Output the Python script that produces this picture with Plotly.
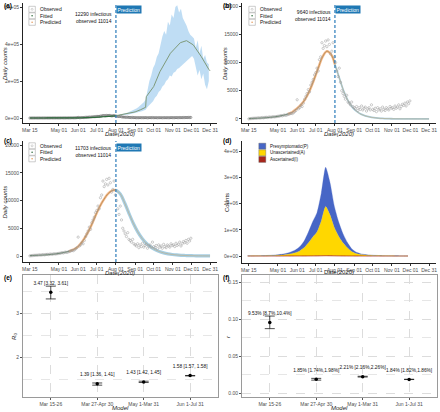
import plotly.graph_objects as go
import pandas as pd

W, H = 440, 412
FONT = "Liberation Sans, Arial, sans-serif"
TICK_FONT = dict(family=FONT, size=5, color="#4D4D4D")

# ---------------- data ----------------
OBS_START = "2020-03-15"
observed = [20, 50, 80, 100, 120, 150, 130, 180, 200, 160, 220, 250, 200, 280, 300, 260, 320, 350, 300, 380, 400, 360, 420, 450,
            480, 520, 600, 550, 650, 700, 640, 760,
            820, 900, 1000, 950, 1100, 1300, 1500,
            3400, 1800, 2000, 2400, 2200, 2800, 3500, 4000,
            4500, 5200, 4800, 6000, 6500, 7000, 7800, 8200,
            9000, 8500, 10500, 11000, 13500, 12500, 13000, 13800,
            12800, 14000, 13200, 11500, 12000, 13500, 11000,
            10000, 8500, 7500, 9000, 6500, 5000, 4500, 4000,
            3500, 4200, 3000, 2800, 2500, 3000, 2200, 2000,
            1800, 2200, 1500, 2000, 1700, 2300, 1600, 1900, 2100, 1400, 1800, 2000, 1600, 2500, 1700,
            1500, 1900, 1300, 2000, 1600, 1800, 1400, 2100, 1700, 1500, 2000, 1800, 1600, 2200, 1900,
            2000, 1700, 2300, 1900, 2100, 2500, 1800, 2200, 2600, 2400, 2800, 2300, 3000, 2700, 3200]
obs_dates = pd.date_range(OBS_START, periods=len(observed), freq="2D")

fit_dates = ["2020-03-15", "2020-03-22", "2020-03-29", "2020-04-05", "2020-04-12", "2020-04-19", "2020-04-26",
             "2020-05-03", "2020-05-10", "2020-05-17", "2020-05-24", "2020-05-31", "2020-06-07", "2020-06-14",
             "2020-06-21", "2020-06-28", "2020-07-05", "2020-07-12", "2020-07-19", "2020-07-26", "2020-08-01"]
pred_dates = ["2020-08-01", "2020-08-08", "2020-08-15", "2020-08-22", "2020-08-29", "2020-09-05", "2020-09-12",
              "2020-09-19", "2020-09-26", "2020-10-03", "2020-10-10", "2020-10-17", "2020-10-24", "2020-10-31",
              "2020-11-07", "2020-11-14", "2020-11-21", "2020-11-28", "2020-12-05", "2020-12-12", "2020-12-19",
              "2020-12-26", "2020-12-31"]

# panel (a)
fit_a = [80, 95, 120, 150, 190, 240, 300, 380, 480, 620, 800, 1050, 1400, 1900, 2600, 3600, 5000, 6700, 8600, 10500, 12290]
pred_a_dates = ["2020-08-01", "2020-08-15", "2020-09-01", "2020-09-10", "2020-09-18", "2020-09-19", "2020-10-01",
                "2020-10-11", "2020-10-28", "2020-11-13", "2020-11-23", "2020-12-04", "2020-12-17", "2020-12-29", "2020-12-31"]
pred_a = [12290, 20000, 33000, 45000, 58000, 115000, 170000, 250000, 350000, 407000, 418000, 395000, 331000, 263000, 255000]
band_a_dates = pd.date_range("2020-08-01", periods=51, freq="3D")
band_a_upper = [13000, 15000, 17000, 19000, 22000, 25000, 28000, 32000, 36000, 40000, 45000, 52000, 58000, 66000, 75000,
                85000, 100000, 160000, 200000, 230000, 270000, 290000, 330000, 350000, 400000, 440000, 470000, 450000,
                520000, 500000, 560000, 540000, 600000, 610000, 570000, 590000, 540000, 520000, 500000, 470000, 450000,
                440000, 430000, 380000, 420000, 350000, 390000, 320000, 340000, 300000, 290000]
band_a_lower = [11500, 12000, 13000, 14000, 15000, 16000, 17500, 19000, 21000, 23000, 25000, 28000, 31000, 34000, 37000,
                40000, 44000, 60000, 70000, 85000, 90000, 110000, 120000, 140000, 150000, 170000, 180000, 200000, 210000,
                230000, 225000, 245000, 250000, 265000, 270000, 280000, 290000, 300000, 310000, 320000, 330000, 335000,
                320000, 280000, 230000, 260000, 210000, 240000, 180000, 155000, 200000]

# panel (b)
fit_b = [80, 100, 130, 170, 220, 290, 380, 500, 660, 880, 1200, 1800, 2500, 3500, 5000, 6900, 9000, 11000, 12000, 11400, 9640]
pred_b = [9640, 7300, 5000, 3300, 2100, 1350, 850, 550, 350, 220, 140, 90, 60, 40, 27, 18, 12, 8, 5, 3, 2, 1, 1]

# panel (c)
fit_c = [80, 100, 130, 170, 220, 290, 380, 500, 650, 850, 1150, 1600, 2500, 3700, 5200, 7000, 8700, 10100, 11200, 11800, 11900]
pred_c = [11900, 11200, 9600, 7700, 5900, 4400, 3200, 2300, 1650, 1150, 800, 560, 390, 270, 190, 130, 90, 60, 45, 30, 20, 15, 12]

info_a = "12290 infectious<br>observed 11014"
info_b = "9640 infectious<br>observed 11014"
info_c = "11703 infectious<br>observed 11014"

# panel (d)
d_dates = pd.date_range("2020-03-13", periods=38, freq="7D")
d_ascertained = [30, 40, 60, 80, 110, 150, 210, 290, 400, 550, 760, 1050, 1450, 2000, 2900, 4000, 5300, 7800, 11000,
                 9200, 6300, 4300, 2800, 1700, 950, 500, 300, 190, 130, 90, 65, 45, 32, 23, 16, 11, 8, 6]
d_unascertained = [3500, 4800, 6500, 8500, 11500, 15500, 21000, 29000, 41000, 59000, 86000, 127000, 193000, 308000,
                   495000, 715000, 910000, 1330000, 1870000, 1560000, 1080000, 750000, 500000, 310000, 172000, 95000,
                   59000, 39000, 28000, 20000, 15000, 10800, 7900, 5700, 4200, 3000, 2200, 1600]
d_presymptomatic = [1470, 2160, 2940, 4420, 6390, 9350, 13790, 20710, 30600, 45450, 68240, 101950, 155550, 250000,
                    402100, 581000, 734700, 1062200, 1499000, 1230800, 813700, 545700, 347200, 208300, 107050, 54500,
                    30700, 18810, 11870, 7910, 4935, 3155, 2068, 1277, 784, 489, 292, 194]

# panels (e), (f)
models = ["Mar 15-26", "Mar 27-Apr 30", "May 1-Mar 31", "Jun 1-Jul 31"]
r0 = [3.47, 1.39, 1.43, 1.58]
r0_lo = [3.32, 1.36, 1.42, 1.57]
r0_hi = [3.61, 1.41, 1.45, 1.58]
r0_text = ["3.47 [3.32, 3.61]", "1.39 [1.36, 1.41]", "1.43 [1.42, 1.45]", "1.58 [1.57, 1.58]"]
rr = [0.0953, 0.0185, 0.0221, 0.0184]
rr_lo = [0.087, 0.0174, 0.0216, 0.0182]
rr_hi = [0.104, 0.0198, 0.0226, 0.0186]
rr_text = ["9.53% [8.7%,10.4%]", "1.85% [1.74%,1.98%]", "2.21% [2.16%,2.26%]", "1.84% [1.82%,1.86%]"]

DATE_TICKS = ["2020-03-15", "2020-05-01", "2020-06-01", "2020-07-01", "2020-08-01", "2020-09-01",
              "2020-10-01", "2020-11-01", "2020-12-01", "2020-12-31"]
DATE_LABELS = ["Mar 15", "May 01", "Jun 01", "Jul 01", "Aug 01", "Sep 01", "Oct 01", "Nov 01", "Dec 01", "Dec 31"]
DATE_MIN, DATE_MAX = "2020-03-03 18:00", "2021-01-11 06:00"
PRED_START = "2020-08-01"

# ---------------- colours ----------------
C_OBS = "#9A9A9A"
C_FIT = "#2E6B3C"
C_ORANGE = "rgba(240,160,100,0.75)"
C_BLUE = "#A6CEE3"
C_TAN = "rgba(200,160,100,0.8)"
C_DASH = "#2B7BB9"

# ---------------- layout geometry (pixels) ----------------
PANELS = {
    "a": ((22, 217), (3, 123)),
    "b": ((242, 437), (3, 123)),
    "c": ((22, 217), (141, 262)),
    "d": ((242, 437), (141, 263)),
    "e": ((22, 218), (275, 397)),
    "f": ((242, 438), (275, 397)),
}
AXID = {"a": "", "b": "2", "c": "3", "d": "4", "e": "5", "f": "6"}


def px(x):
    return x / W


def py(y):
    return 1 - y / H


def xdom(k):
    a, b = PANELS[k][0]
    return [a / W, b / W]


def ydom(k):
    t, b = PANELS[k][1]
    return [1 - b / H, 1 - t / H]


fig = go.Figure()


def xy(k):
    return dict(xaxis="x" + AXID[k], yaxis="y" + AXID[k])


# ---- panel (a) ----
fig.add_trace(go.Scatter(x=band_a_dates, y=band_a_lower, mode="lines", line=dict(width=0), hoverinfo="skip",
                         showlegend=False, **xy("a")))
fig.add_trace(go.Scatter(x=band_a_dates, y=band_a_upper, mode="lines", line=dict(width=0), fill="tonexty",
                         fillcolor="rgba(170,210,240,0.75)", showlegend=False, **xy("a")))
fig.add_trace(go.Scatter(x=obs_dates, y=observed, mode="markers",
                         marker=dict(size=2.2, color="rgba(0,0,0,0)", line=dict(color="#555", width=0.5)),
                         showlegend=False, **xy("a")))
fig.add_trace(go.Scatter(x=fit_dates, y=fit_a, mode="lines", line=dict(color=C_FIT, width=1.2, shape="spline"),
                         showlegend=False, **xy("a")))
fig.add_trace(go.Scatter(x=pred_a_dates, y=pred_a, mode="lines", line=dict(color="#7F9A7A", width=1),
                         showlegend=False, **xy("a")))

# ---- panels (b), (c) ----
for k, fit, pred, bw in (("b", fit_b, pred_b, 1.8), ("c", fit_c, pred_c, 3.2)):
    fig.add_trace(go.Scatter(x=fit_dates, y=fit, mode="lines", line=dict(color=C_FIT, width=1, shape="spline"),
                             showlegend=False, **xy(k)))
    fig.add_trace(go.Scatter(x=fit_dates[9:], y=fit[9:], mode="lines",
                             line=dict(color=C_ORANGE, width=2.4, shape="spline"), showlegend=False, **xy(k)))
    fig.add_trace(go.Scatter(x=pred_dates, y=pred, mode="lines", line=dict(color=C_BLUE, width=bw, shape="spline"),
                             showlegend=False, **xy(k)))
    fig.add_trace(go.Scatter(x=pred_dates, y=pred, mode="lines", line=dict(color=C_TAN, width=0.6, shape="spline"),
                             showlegend=False, **xy(k)))
    fig.add_trace(go.Scatter(x=obs_dates, y=observed, mode="markers",
                             marker=dict(size=2.3, color="rgba(0,0,0,0)", line=dict(color=C_OBS, width=0.5)),
                             showlegend=False, **xy(k)))

# ---- panel (d) ----
for vals, col in ((d_ascertained, "#A8261B"), (d_unascertained, "#FFD700"), (d_presymptomatic, "#4766C6")):
    fig.add_trace(go.Scatter(x=d_dates, y=vals, mode="lines", stackgroup="d",
                             line=dict(color=col, width=0.8 if col == "#A8261B" else 0.3, shape="spline",
                                       smoothing=0.6),
                             fillcolor=col, showlegend=False, **xy("d")))

# ---- panels (e), (f) ----
for k, v, lo, hi, txt, off in (("e", r0, r0_lo, r0_hi, r0_text, 0.2), ("f", rr, rr_lo, rr_hi, rr_text, 0.0115)):
    xs = list(range(len(models)))
    fig.add_trace(go.Scatter(
        x=xs, y=v, mode="markers", marker=dict(size=3.5, color="black"),
        error_y=dict(type="data", symmetric=False, array=[h - m for h, m in zip(hi, v)],
                     arrayminus=[m - l for m, l in zip(v, lo)], width=5, thickness=0.7, color="black"),
        showlegend=False, **xy(k)))
    fig.add_trace(go.Scatter(x=xs, y=[m + off for m in v], mode="text", text=txt,
                             textfont=dict(family=FONT, size=4.8, color="#111"), showlegend=False, **xy(k)))

# ---------------- axes ----------------
AX = dict(showgrid=False, zeroline=False, showline=True, linecolor="#222", linewidth=0.6, ticks="outside",
          ticklen=2, tickwidth=0.5, tickcolor="#333", tickfont=TICK_FONT)
layout = dict(width=W, height=H, margin=dict(l=0, r=0, t=0, b=0), paper_bgcolor="white", plot_bgcolor="white",
              showlegend=False, font=dict(family=FONT))

yr = {"a": [-27000, 621600], "b": [-714, 20536], "c": [-1081, 20720], "d": [-266700, 4381000]}
ytv = {"a": ([0, 2e5, 4e5, 6e5], ["0e+00", "2e+05", "4e+05", "6e+05"]),
       "b": ([0, 5000, 10000, 15000, 20000], ["0", "5000", "10000", "15000", "20000"]),
       "c": ([0, 5000, 10000, 15000, 20000], ["0", "5000", "10000", "15000", "20000"]),
       "d": ([0, 1e6, 2e6, 3e6, 4e6], ["0e+00", "1e+06", "2e+06", "3e+06", "4e+06"])}
for k in "abcd":
    layout["xaxis" + AXID[k]] = dict(domain=xdom(k), anchor="y" + AXID[k], type="date", range=[DATE_MIN, DATE_MAX],
                                     tickvals=DATE_TICKS, ticktext=DATE_LABELS, **AX)
    layout["yaxis" + AXID[k]] = dict(domain=ydom(k), anchor="x" + AXID[k], range=yr[k], tickvals=ytv[k][0],
                                     ticktext=ytv[k][1], **AX)

GRID = dict(showgrid=True, gridcolor="#DCDCDC", gridwidth=0.5, griddash="dash")
BOX = dict(zeroline=False, showline=True, mirror=True, linecolor="#9A9A9A", linewidth=0.6, ticks="outside",
           ticklen=2, tickwidth=0.5, tickcolor="#555", tickfont=TICK_FONT)
for k, rng, dt, minor in (("e", [1.091, 3.864], 1, 0.5), ("f", [-0.0054, 0.1595], 0.05, 0.025)):
    layout["xaxis" + AXID[k]] = dict(domain=xdom(k), anchor="y" + AXID[k], range=[-0.6, 3.6],
                                     tickvals=list(range(len(models))), ticktext=models, **GRID, **BOX)
    layout["yaxis" + AXID[k]] = dict(domain=ydom(k), anchor="x" + AXID[k], range=rng, tick0=0, dtick=dt,
                                     tickformat=".2f" if k == "f" else "d",
                                     minor=dict(dtick=minor, tick0=0, showgrid=True, gridcolor="#E6E6E6",
                                                griddash="dash", gridwidth=0.4, ticks=""),
                                     **GRID, **BOX)
fig.update_layout(**layout)

# ---------------- decorations ----------------
shapes = []
ann = []

for k, info, info_y in (("a", info_a, 17.5), ("b", info_b, 16), ("c", info_c, 151.5)):
    shapes.append(dict(type="line", xref="x" + AXID[k], yref="y" + AXID[k] + " domain", x0=PRED_START,
                       x1=PRED_START, y0=0, y1=1, line=dict(color=C_DASH, width=1.2, dash="3px,2px")))
    ann.append(dict(xref="x" + AXID[k], yref="y" + AXID[k] + " domain", x=PRED_START, y=1, xanchor="left",
                    yanchor="top", yshift=-2, text="Prediction", showarrow=False, bgcolor="#1F78B4",
                    borderpad=0.6, font=dict(family=FONT, size=5, color="white")))
    ann.append(dict(xref="x" + AXID[k], yref="paper", x=PRED_START, y=py(info_y), xanchor="right", yanchor="middle",
                    xshift=-2, text=info, align="right", showarrow=False, font=dict(family=FONT, size=5, color="#111")))

# count legends
for x0, ys in ((28, (9.3, 15.8, 22.3)), (249, (9.3, 15.8, 22.3)), (28, (145.8, 152.3, 158.8))):
    for (label, kind), yc in zip((("Observed", "obs"), ("Fitted", "fit"), ("Predicted", "pred")), ys):
        shapes.append(dict(type="rect", xref="paper", yref="paper", x0=px(x0), x1=px(x0 + 6.5), y0=py(yc + 3),
                           y1=py(yc - 3), line=dict(color="#9A9A9A", width=0.5), fillcolor="white"))
        cx = x0 + 3.25
        if kind == "obs":
            shapes.append(dict(type="circle", xref="paper", yref="paper", x0=px(cx - 1), x1=px(cx + 1),
                               y0=py(yc + 1), y1=py(yc - 1), line=dict(color=C_OBS, width=0.4)))
        else:
            col = C_FIT if kind == "fit" else "#E59A5C"
            shapes.append(dict(type="circle", xref="paper", yref="paper", x0=px(cx - 0.8), x1=px(cx + 0.8),
                               y0=py(yc + 0.8), y1=py(yc - 0.8), line=dict(width=0), fillcolor=col))
        ann.append(dict(xref="paper", yref="paper", x=px(x0 + 9.5), y=py(yc), xanchor="left", yanchor="middle",
                        text=label, showarrow=False, font=dict(family=FONT, size=5, color="#111")))

# compartment legend (d)
for (label, col), yc in zip((("Presymptomatic(P)", "#4766C6"), ("Unascertained(A)", "#FFD700"),
                             ("Ascertained(I)", "#A8261B")), (146.2, 152.8, 159.4)):
    shapes.append(dict(type="rect", xref="paper", yref="paper", x0=px(259), x1=px(266), y0=py(yc + 3),
                       y1=py(yc - 3), line=dict(color="#666", width=0.4), fillcolor=col))
    ann.append(dict(xref="paper", yref="paper", x=px(268.5), y=py(yc), xanchor="left", yanchor="middle",
                    text=label, showarrow=False, font=dict(family=FONT, size=4.5, color="#111")))

# panel letters
for lab, x, y in (("(a)", 1, 0), ("(b)", 221, 0), ("(c)", 1, 134.5), ("(d)", 221, 134.5), ("(e)", 1, 272),
                  ("(f)", 221, 272)):
    ann.append(dict(xref="paper", yref="paper", x=px(x), y=py(y), xanchor="left", yanchor="top", text="<b>" + lab + "</b>",
                    showarrow=False, font=dict(family=FONT, size=6.5, color="#000")))

# axis titles
for k, xt, yt, xtitle, ytitle in (("a", 134, 4, "<i>Date(2020)</i>", "<i>Daily counts</i>"),
                                   ("b", 134, 225, "<i>Date(2020)</i>", "<i>Daily counts</i>"),
                                   ("c", 272.5, 4, "<i>Date(2020)</i>", "<i>Daily counts</i>"),
                                   ("d", 272, 227, "Date(2020)", "Counts"),
                                   ("e", 408, 13, "<i>Model</i>", "<i>R</i><sub>0</sub>"),
                                   ("f", 408, 228, "<i>Model</i>", "<i>r</i>")):
    (x0, x1), (y0, y1) = PANELS[k]
    ann.append(dict(xref="paper", yref="paper", x=px((x0 + x1) / 2), y=py(xt), xanchor="center", yanchor="middle",
                    text=xtitle, showarrow=False, font=dict(family=FONT, size=6, color="#222")))
    ann.append(dict(xref="paper", yref="paper", x=px(yt), y=py((y0 + y1) / 2), xanchor="center", yanchor="middle",
                    text=ytitle, textangle=-90, showarrow=False, font=dict(family=FONT, size=6, color="#222")))

fig.update_layout(shapes=shapes, annotations=ann)
fig.write_html("out.html", config={"displayModeBar": False},
               post_script="document.body.style.margin='0';document.body.style.overflow='hidden';")
